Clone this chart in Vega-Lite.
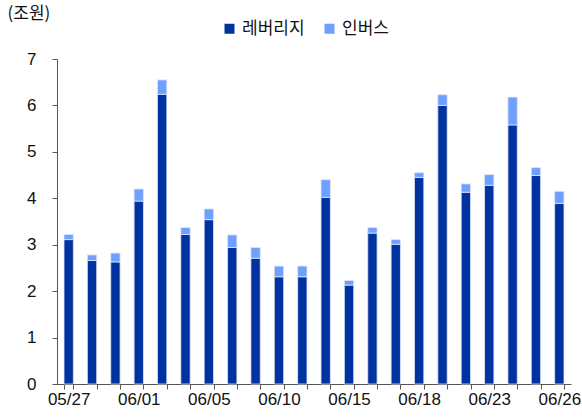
{
  "$schema": "https://vega.github.io/schema/vega-lite/v6.json",
  "autosize": {"type": "none"},
  "width": 514,
  "height": 325,
  "padding": {"left": 57, "top": 59, "right": 11, "bottom": 33},
  "background": "white",
  "config": {
    "view": {"stroke": null},
    "font": "Liberation Sans"
  },
  "data": {
    "values": [
      {"date": "05/27", "type": "레버리지", "value": 3.11},
      {"date": "05/27", "type": "인버스", "value": 0.11},
      {"date": "05/28", "type": "레버리지", "value": 2.66},
      {"date": "05/28", "type": "인버스", "value": 0.12},
      {"date": "05/31", "type": "레버리지", "value": 2.63},
      {"date": "05/31", "type": "인버스", "value": 0.19},
      {"date": "06/01", "type": "레버리지", "value": 3.94},
      {"date": "06/01", "type": "인버스", "value": 0.26},
      {"date": "06/02", "type": "레버리지", "value": 6.24},
      {"date": "06/02", "type": "인버스", "value": 0.31},
      {"date": "06/04", "type": "레버리지", "value": 3.22},
      {"date": "06/04", "type": "인버스", "value": 0.15},
      {"date": "06/05", "type": "레버리지", "value": 3.54},
      {"date": "06/05", "type": "인버스", "value": 0.23},
      {"date": "06/07", "type": "레버리지", "value": 2.94},
      {"date": "06/07", "type": "인버스", "value": 0.27},
      {"date": "06/08", "type": "레버리지", "value": 2.71},
      {"date": "06/08", "type": "인버스", "value": 0.23},
      {"date": "06/10", "type": "레버리지", "value": 2.31},
      {"date": "06/10", "type": "인버스", "value": 0.23},
      {"date": "06/11", "type": "레버리지", "value": 2.31},
      {"date": "06/11", "type": "인버스", "value": 0.23},
      {"date": "06/14", "type": "레버리지", "value": 4.02},
      {"date": "06/14", "type": "인버스", "value": 0.38},
      {"date": "06/15", "type": "레버리지", "value": 2.13},
      {"date": "06/15", "type": "인버스", "value": 0.10},
      {"date": "06/16", "type": "레버리지", "value": 3.25},
      {"date": "06/16", "type": "인버스", "value": 0.12},
      {"date": "06/17", "type": "레버리지", "value": 3.01},
      {"date": "06/17", "type": "인버스", "value": 0.10},
      {"date": "06/18", "type": "레버리지", "value": 4.45},
      {"date": "06/18", "type": "인버스", "value": 0.10},
      {"date": "06/21", "type": "레버리지", "value": 6.00},
      {"date": "06/21", "type": "인버스", "value": 0.23},
      {"date": "06/22", "type": "레버리지", "value": 4.13},
      {"date": "06/22", "type": "인버스", "value": 0.18},
      {"date": "06/23", "type": "레버리지", "value": 4.28},
      {"date": "06/23", "type": "인버스", "value": 0.23},
      {"date": "06/24", "type": "레버리지", "value": 5.58},
      {"date": "06/24", "type": "인버스", "value": 0.60},
      {"date": "06/25", "type": "레버리지", "value": 4.49},
      {"date": "06/25", "type": "인버스", "value": 0.17},
      {"date": "06/26", "type": "레버리지", "value": 3.89},
      {"date": "06/26", "type": "인버스", "value": 0.26}
    ]
  },
  "mark": {"type": "bar", "stroke": "#dfe6f5", "strokeWidth": 0.8},
  "encoding": {
    "x": {
      "field": "date",
      "type": "ordinal",
      "sort": null,
      "scale": {"paddingInner": 0.6, "paddingOuter": 0.3},
      "axis": {
        "title": null,
        "labelAngle": 0,
        "labelOverlap": false,
        "labelExpr": "indexof(['05/27','06/01','06/05','06/10','06/15','06/18','06/23','06/26'], datum.value) >= 0 ? datum.value : ''",
        "tickBand": "extent",
        "domainColor": "#555555",
        "tickColor": "#555555",
        "tickSize": 5,
        "labelFont": "Liberation Sans",
        "labelFontSize": 17,
        "labelColor": "#111111",
        "labelPadding": 2
      }
    },
    "y": {
      "field": "value",
      "type": "quantitative",
      "aggregate": "sum",
      "stack": "zero",
      "scale": {"domain": [0, 7], "nice": false},
      "axis": {
        "values": [0, 1, 2, 3, 4, 5, 6, 7],
        "grid": false,
        "title": "(조원)",
        "titleAngle": 0,
        "titleAlign": "left",
        "titleBaseline": "top",
        "titleX": -50,
        "titleY": -54,
        "titleFont": "Noto Sans CJK KR",
        "titleFontSize": 17,
        "titleFontWeight": "normal",
        "titleColor": "#111111",
        "domainColor": "#555555",
        "tickColor": "#555555",
        "tickSize": 5,
        "labelFont": "Liberation Sans",
        "labelFontSize": 17,
        "labelColor": "#111111",
        "labelPadding": 16
      }
    },
    "color": {
      "field": "type",
      "type": "nominal",
      "scale": {"domain": ["레버리지", "인버스"], "range": ["#0033A0", "#6F9FFF"]},
      "legend": {
        "title": null,
        "orient": "none",
        "legendX": 164,
        "legendY": -39,
        "direction": "horizontal",
        "columns": 2,
        "symbolType": "square",
        "symbolSize": 100,
        "symbolStrokeWidth": 0,
        "labelFont": "Noto Sans CJK KR",
        "labelFontSize": 17,
        "labelColor": "#111111",
        "labelOffset": 4,
        "columnPadding": 16
      }
    },
    "order": {"field": "type", "sort": "ascending"}
  }
}
